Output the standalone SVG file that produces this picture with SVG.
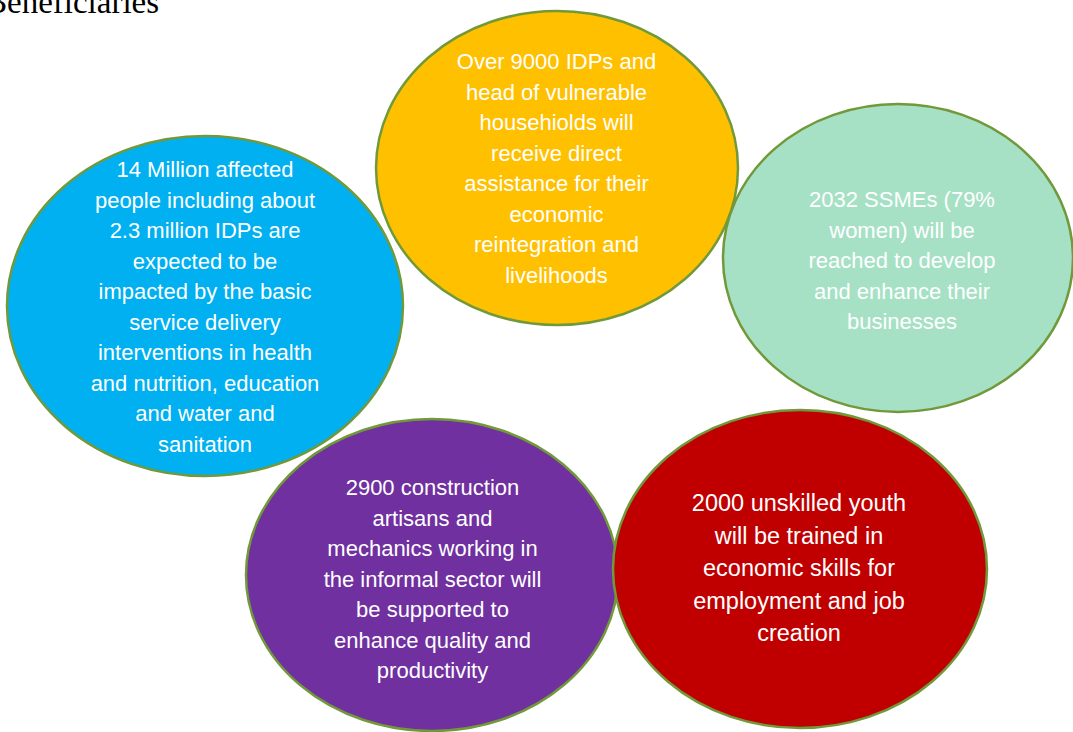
<svg xmlns="http://www.w3.org/2000/svg" width="1073" height="732" viewBox="0 0 1073 732">
<style>
.node ellipse{stroke:#71993A;stroke-width:2.5}
.node text{font-family:"Liberation Sans",Arial,sans-serif;font-size:22px;fill:#ffffff;text-anchor:middle}
.node text.big{font-size:23.5px}
.title{font-family:"Liberation Serif","Times New Roman",serif;font-size:33px;fill:#000000}
</style>
<rect width="1073" height="732" fill="#ffffff"/>
<text class="title" x="-15" y="13">Beneficiaries</text>
<g id="connectors"></g>
<g id="node-blue" class="node">
<ellipse cx="205" cy="306" rx="198" ry="170" fill="#00B0F0"/>
<text x="205" y="177">14 Million affected</text>
<text x="205" y="207.5">people including about</text>
<text x="205" y="238">2.3 million IDPs are</text>
<text x="205" y="268.5">expected to be</text>
<text x="205" y="299">impacted by the basic</text>
<text x="205" y="329.5">service delivery</text>
<text x="205" y="360">interventions in health</text>
<text x="205" y="390.5">and nutrition, education</text>
<text x="205" y="421">and water and</text>
<text x="205" y="451.5">sanitation</text>
</g>
<g id="node-yellow" class="node">
<ellipse cx="557" cy="168" rx="181" ry="157" fill="#FFC000"/>
<text x="556.5" y="69">Over 9000 IDPs and</text>
<text x="556.5" y="99.5">head of vulnerable</text>
<text x="556.5" y="130">househiolds will</text>
<text x="556.5" y="160.5">receive direct</text>
<text x="556.5" y="191">assistance for their</text>
<text x="556.5" y="221.5">economic</text>
<text x="556.5" y="252">reintegration and</text>
<text x="556.5" y="282.5">livelihoods</text>
</g>
<g id="node-green" class="node">
<ellipse cx="898" cy="258" rx="175" ry="154" fill="#A6E1C5"/>
<text x="902" y="207">2032 SSMEs (79%</text>
<text x="902" y="237.5">women) will be</text>
<text x="902" y="268">reached to develop</text>
<text x="902" y="298.5">and enhance their</text>
<text x="902" y="329">businesses</text>
</g>
<g id="node-purple" class="node">
<ellipse cx="432" cy="575" rx="186" ry="156" fill="#7030A0"/>
<text x="432.5" y="495">2900 construction</text>
<text x="432.5" y="525.5">artisans and</text>
<text x="432.5" y="556">mechanics working in</text>
<text x="432.5" y="586.5">the informal sector will</text>
<text x="432.5" y="617">be supported to</text>
<text x="432.5" y="647.5">enhance quality and</text>
<text x="432.5" y="678">productivity</text>
</g>
<g id="node-red" class="node">
<ellipse cx="800" cy="569" rx="187" ry="159" fill="#C00000"/>
<text class="big" x="799" y="511">2000 unskilled youth</text>
<text class="big" x="799" y="543.5">will be trained in</text>
<text class="big" x="799" y="576">economic skills for</text>
<text class="big" x="799" y="608.5">employment and job</text>
<text class="big" x="799" y="641">creation</text>
</g>
</svg>
